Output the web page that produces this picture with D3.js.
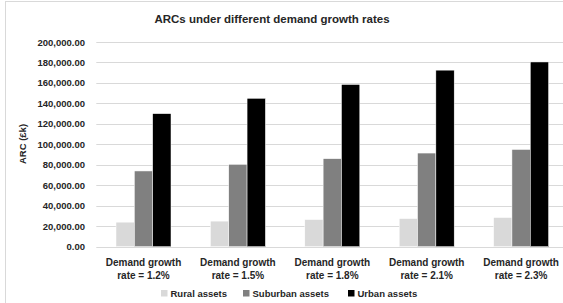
<!DOCTYPE html>
<html><head><meta charset="utf-8">
<script src="https://cdn.jsdelivr.net/npm/d3@7"></script>
<style>
html,body{margin:0;padding:0;background:#fff;overflow:hidden;}
svg{display:block;}
text{font-family:"Liberation Sans",Arial,sans-serif;font-weight:bold;fill:#262626;}
</style></head>
<body>
<svg id="chart" width="563" height="303"></svg>
<script>
const categories = ["Demand growth rate = 1.2%","Demand growth rate = 1.5%","Demand growth rate = 1.8%","Demand growth rate = 2.1%","Demand growth rate = 2.3%"];
const categoryLines = [["Demand growth","rate = 1.2%"],["Demand growth","rate = 1.5%"],["Demand growth","rate = 1.8%"],["Demand growth","rate = 2.1%"],["Demand growth","rate = 2.3%"]];
const seriesNames = ["Rural assets","Suburban assets","Urban assets"];
const rural = [24000, 25000, 26500, 27500, 28500];
const suburban = [74000, 80500, 86000, 91500, 95000];
const urban = [130000, 145000, 158500, 172500, 180500];
const yTicks = [0,20000,40000,60000,80000,100000,120000,140000,160000,180000,200000];
const colors = ["#d9d9d9","#808080","#000000"];
const title = "ARCs under different demand growth rates";
const yTitle = "ARC (£k)";

const svg = d3.select("#chart");
const values = [rural, suburban, urban];
const textCol = "#262626";

// chart border
svg.append("rect").attr("x",5.5).attr("y",1.5).attr("width",600).attr("height",320)
  .attr("fill","#fff").attr("stroke","#d9d9d9").attr("stroke-width",1);

const pLeft = 96.3, pRight = 568.3, pTop = 42, pBottom = 246.7;
const x0 = d3.scaleBand().domain(categories).range([pLeft,pRight]).padding(0);
const bw = x0.bandwidth();
const x1 = d3.scaleBand().domain(seriesNames).range([bw*0.2087, bw*0.7913]).padding(0);
const y = d3.scaleLinear().domain([0,200000]).range([pBottom,pTop]);

// gridlines
svg.append("g").selectAll("line").data(yTicks).join("line")
  .attr("x1",pLeft).attr("x2",pRight)
  .attr("y1",d=>Math.round(y(d))+0.5).attr("y2",d=>Math.round(y(d))+0.5)
  .attr("stroke","#d9d9d9").attr("stroke-width",1);

// y axis labels
const yAxis = d3.axisLeft(y).tickValues(yTicks).tickFormat(d3.format(",.2f")).tickSize(0).tickPadding(0);
const gy = svg.append("g").attr("transform",`translate(85,0)`).call(yAxis);
gy.select(".domain").remove();
gy.selectAll("text").attr("font-size","9.5px").attr("fill",textCol)
  .style("font-family",'"Liberation Sans",Arial,sans-serif').style("font-weight","bold");

// bars
const groups = svg.append("g").selectAll("g").data(categories).join("g")
  .attr("transform",d=>`translate(${x0(d)},0)`);
groups.selectAll("rect").data((d,i)=>seriesNames.map((s,j)=>({s, v: values[j][i], c: colors[j]})))
  .join("rect")
  .attr("x",d=>x1(d.s)).attr("width",x1.bandwidth())
  .attr("y",d=>y(d.v)).attr("height",d=>y(0)-y(d.v))
  .attr("fill",d=>d.c).attr("stroke","#ffffff").attr("stroke-width",0.5);

// x labels
const xl = svg.append("g").selectAll("text").data(categories).join("text")
  .attr("x",d=>x0(d)+bw/2).attr("text-anchor","middle").attr("font-size","10px").attr("fill",textCol);
xl.each(function(d,i){
  const t = d3.select(this);
  categoryLines[i].forEach((ln,k)=>{
    t.append("tspan").attr("x",x0(d)+bw/2).attr("y",266+k*13).text(ln);
  });
});

// title
svg.append("text").attr("x",272).attr("y",23).attr("text-anchor","middle")
  .attr("font-size","11.5px").attr("fill","#111").text(title);

// y title
svg.append("text").attr("transform","translate(25.5,144) rotate(-90)").attr("text-anchor","middle")
  .attr("font-size","9.5px").attr("fill",textCol).text(yTitle);

// legend
const legX = [161, 243, 348];
const leg = svg.append("g").selectAll("g").data(seriesNames).join("g")
  .attr("transform",(d,i)=>`translate(${legX[i]},290)`);
leg.append("rect").attr("width",6.5).attr("height",6.5).attr("fill",(d,i)=>colors[i]);
leg.append("text").attr("x",9.5).attr("y",7).attr("font-size","9.5px").attr("fill",textCol).text(d=>d);
</script>
</body></html>
